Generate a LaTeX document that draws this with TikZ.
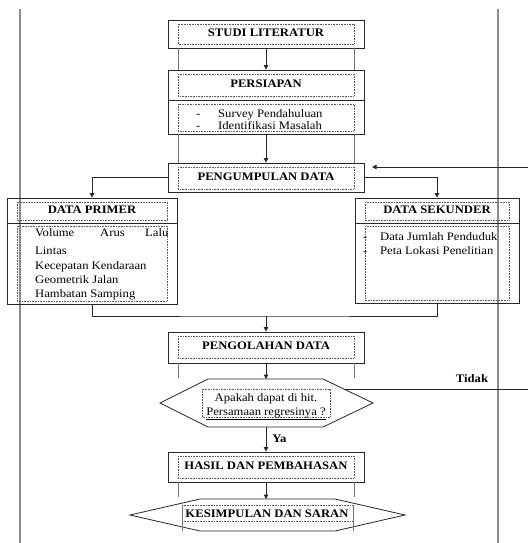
\documentclass[tikz,border=0pt]{standalone}
\usepackage{fontspec}
\setmainfont[FakeStretch=1.1]{Liberation Serif}
\usetikzlibrary{arrows.meta,calc}
\begin{document}
\begin{tikzpicture}[x=1pt,y=-1pt,
  box/.style={draw=black!85,line width=0.9pt,rectangle,inner sep=0pt},
  inbox/.style={draw=black!65,densely dotted,line width=0.6pt},
  ghost/.style={draw=black!55,line width=0.5pt},
  margin/.style={draw=black!45,line width=1.1pt},
  conn/.style={draw=black!85,line width=0.8pt},
  arr/.style={conn,-{Triangle[length=4.5pt,width=4.5pt]}},
  hd/.style={font=\bfseries\fontsize{11.5}{13}\selectfont,inner sep=0pt},
  tx/.style={font=\fontsize{11.5}{13}\selectfont,inner sep=0pt,anchor=base west},
  txc/.style={font=\fontsize{11.5}{13}\selectfont,inner sep=0pt,anchor=base}]
\useasboundingbox (0,0) rectangle (528,543);

% margin lines
\draw[margin] (20,9) -- (20,543);
\draw[margin] (498,9) -- (498,543);

% STUDI LITERATUR
\node[box,minimum width=196pt,minimum height=28pt] (studi) at (266,34) {};
\draw[inbox] (178,24) rectangle (354,44);
\node[hd] (tstudi) at (266,33) {STUDI LITERATUR};
\draw[ghost] (178,48) -- (178,70) (354,48) -- (354,70);

% PERSIAPAN
\node[box,minimum width=196pt,minimum height=30pt] (persiapan) at (266,85) {};
\draw[inbox] (178,74) rectangle (354,96);
\node[hd] (tpersiapan) at (266,84) {PERSIAPAN};

\node[box,minimum width=196pt,minimum height=34pt] (survey) at (266,117) {};
\draw[inbox] (178,104) rectangle (354,131);
\node[tx] (d1) at (196,117.5) {-};
\node[tx] (d2) at (196,129.5) {-};
\node[tx] (s1) at (218,117.5) {Survey Pendahuluan};
\node[tx] (s2) at (218,129.5) {Identifikasi Masalah};
\draw[ghost] (178,134) -- (178,163) (354,134) -- (354,163);

% PENGUMPULAN DATA
\node[box,minimum width=196pt,minimum height=29pt] (kumpul) at (266,177.5) {};
\draw[inbox] (178,167) rectangle (354,189);
\node[hd] (tkumpul) at (266,177) {PENGUMPULAN DATA};

% DATA PRIMER
\node[box,minimum width=170pt,minimum height=106pt] (primer) at (92,251) {};
\draw[conn] (7,223) -- (177,223);
\draw[inbox] (17,202) rectangle (167,220);
\draw[inbox] (17,226) rectangle (167,301);
\node[hd] (tprimer) at (92,210) {DATA PRIMER};
\node[tx] (p1a) at (35,236) {Volume};
\node[tx] (p1b) at (100,236) {Arus};
\node[tx] (p1c) at (145,236) {Lalu};
\node[tx] (p2) at (35,254) {Lintas};
\node[tx] (p3) at (35,269) {Kecepatan Kendaraan};
\node[tx] (p4) at (35,283) {Geometrik Jalan};
\node[tx] (p5) at (35,297) {Hambatan Samping};

% DATA SEKUNDER
\node[box,minimum width=164pt,minimum height=105pt] (sekunder) at (437,250.5) {};
\draw[conn] (355,223) -- (519,223);
\draw[inbox] (365,202) rectangle (509,220);
\draw[inbox] (365,226) rectangle (509,300);
\node[hd] (tsekunder) at (437,210) {DATA SEKUNDER};
\node[tx] (sd1) at (363,240) {-};
\node[tx] (sd2) at (363,254) {-};
\node[tx] (sk1) at (380,240) {Data Jumlah Penduduk};
\node[tx] (sk2) at (380,254) {Peta Lokasi Penelitian};

% PENGOLAHAN DATA
\node[box,minimum width=196pt,minimum height=31pt] (olah) at (266,347.5) {};
\draw[inbox] (178,336) rectangle (354,358);
\node[hd] (tolah) at (266,346) {PENGOLAHAN DATA};
\draw[ghost] (178,363) -- (178,378) (354,363) -- (354,378);

% decision hexagon
\coordinate (h1t) at (266,379);
\coordinate (h1b) at (266,427);
\coordinate (h1r) at (344,389);
\draw[conn] (208,379) -- (323,379) -- (373,403) -- (323,427) -- (208,427) -- (160,403) -- cycle;
\draw[inbox] (202,389) rectangle (330,417);
\node[txc] (q1) at (266,401) {Apakah dapat di hit.};
\node[txc] (q2) at (266,415) {\underline{Persamaan regresinya ?}};

% HASIL DAN PEMBAHASAN
\node[box,minimum width=196pt,minimum height=30pt] (hasil) at (266,467) {};
\draw[inbox] (178,456) rectangle (354,478);
\node[hd] (thasil) at (266,466) {HASIL DAN PEMBAHASAN};
\draw[ghost] (178,482) -- (178,497) (354,482) -- (354,497);

% KESIMPULAN hexagon
\coordinate (h2t) at (266,499);
\draw[conn] (200,499) -- (335,499) -- (405,515) -- (335,531) -- (200,531) -- (130,515) -- cycle;
\draw[inbox] (182,505) -- (353,505);
\draw[inbox] (182,521) -- (353,521);
\draw[ghost] (182,505) -- (182,531) (353,505) -- (353,531);
\node[hd] (tsimpul) at (267,514) {KESIMPULAN DAN SARAN};

% connectors
\draw[arr] (studi.south) -- (persiapan.north);
\draw[arr] (survey.south) -- (kumpul.north);
\draw[arr] (kumpul.west) -| (primer.north);
\draw[arr] (kumpul.east) -| (sekunder.north);
\coordinate (join) at (266,316);
\draw[conn] (primer.south) |- (join) -| (sekunder.south);
\draw[arr] (join) -- (olah.north);
\draw[arr] (olah.south) -- (h1t);
\draw[arr] (h1b) -- (hasil.north) node[pos=0.5,right=6pt,hd] (ya) {Ya};
\draw[arr] (hasil.south) -- (h2t);
\coordinate (tidakR) at (528,389);
\draw[conn] (h1r) -- (tidakR);
\node[hd,anchor=base] (tidak) at (472,382) {Tidak};
\coordinate (fbR) at (528,167);
\coordinate (fbL) at (372,167);
\draw[arr] (fbR) -- (fbL);
\end{tikzpicture}
\end{document}
